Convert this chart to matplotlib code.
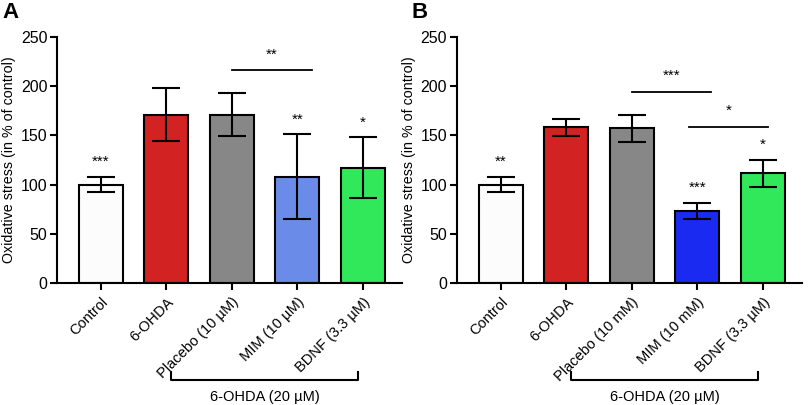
import matplotlib
matplotlib.use("Agg")
import matplotlib.pyplot as plt
import matplotlib.transforms as mtransforms

plt.rcParams['font.family'] = ['Liberation Sans', 'DejaVu Sans']

# data
labels_a = ["Control", "6-OHDA", "Placebo (10 µM)", "MIM (10 µM)", "BDNF (3.3 µM)"]
labels_b = ["Control", "6-OHDA", "Placebo (10 mM)", "MIM (10 mM)", "BDNF (3.3 µM)"]
means_a = [100, 171, 171, 108, 117]
errs_a = [8, 27, 22, 43, 31]
means_b = [100, 158, 157, 73.5, 111.5]
errs_b = [8, 9, 14, 8, 13.5]
stars_a = ["***", "", "", "**", "*"]
stars_b = ["**", "", "", "***", "*"]
colors_a = ["#fcfcfc", "#d22222", "#878787", "#6b8be8", "#30e85a"]
colors_b = ["#fcfcfc", "#d22222", "#878787", "#1a2af0", "#30e85a"]
# comparison lines: (x start, x end, y, text)
comps_a = [(2, 3.22, 216, "**")]
comps_b = [(2, 3.21, 194, "***"), (2.87, 4.08, 158.5, "*")]


def draw_panel(ax, labels, means, errs, stars, colors, comps):
    x = range(len(means))
    ax.bar(x, means, width=0.67, color=colors, edgecolor='black', linewidth=1.5, zorder=2)
    ax.errorbar(x, means, yerr=errs, fmt='none', ecolor='black', elinewidth=1.5,
                capsize=10, capthick=1.5, zorder=3)
    # significance marks above bars
    for i, s in enumerate(stars):
        if s:
            ax.text(i, means[i] + errs[i] + 11, s, ha='center', va='baseline', fontsize=11)
    for x0, x1, y, s in comps:
        ax.plot([x0, x1], [y, y], color='black', linewidth=1.3)
        ax.text((x0 + x1) / 2, y + 12, s, ha='center', va='baseline', fontsize=11)

    ax.set_xlim(-0.67, 4.6)
    ax.set_ylim(0, 250)
    ax.set_yticks([0, 50, 100, 150, 200, 250])
    ax.set_xticks(list(x))
    ax.set_xticklabels(labels, rotation=45, ha='right', rotation_mode='anchor')
    ax.tick_params(axis='both', width=1.5, length=5, labelsize=11.5)
    ax.tick_params(axis='y', pad=2)
    ax.tick_params(axis='x', labelsize=10.5)
    for side in ['top', 'right']:
        ax.spines[side].set_visible(False)
    for side in ['left', 'bottom']:
        ax.spines[side].set_linewidth(1.5)
    ax.set_ylabel("Oxidative stress (in % of control)", fontsize=10.3)
    ax.yaxis.set_label_coords(-0.118, 0.5)

    # bracket under the treated groups
    trans = mtransforms.blended_transform_factory(ax.transData, ax.transAxes)
    ax.plot([1.07, 1.07, 3.93, 3.93], [-0.362, -0.392, -0.392, -0.362], color='black',
            linewidth=1.5, transform=trans, clip_on=False)
    ax.text(2.5, -0.435, "6-OHDA (20 µM)", transform=trans, ha='center', va='top',
            fontsize=10.5)


fig = plt.figure(figsize=(8.1, 4.05), dpi=100)
ax_a = fig.add_axes([0.0704, 0.301, 0.426, 0.608])
ax_b = fig.add_axes([0.564, 0.301, 0.426, 0.608])
draw_panel(ax_a, labels_a, means_a, errs_a, stars_a, colors_a, comps_a)
draw_panel(ax_b, labels_b, means_b, errs_b, stars_b, colors_b, comps_b)
fig.text(0.003, 0.995, "A", fontsize=16, fontweight='bold', ha='left', va='top')
fig.text(0.508, 0.995, "B", fontsize=16, fontweight='bold', ha='left', va='top')

fig.savefig("out.png", dpi=100)
